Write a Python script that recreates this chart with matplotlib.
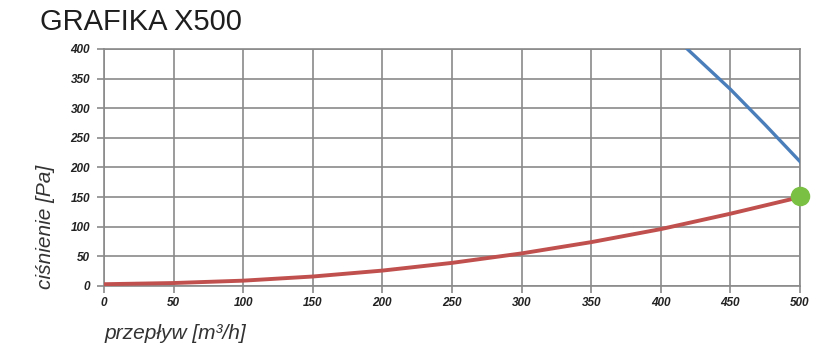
import matplotlib
matplotlib.use("Agg")
import matplotlib.pyplot as plt

# data
flow_red = [0, 50, 100, 150, 200, 250, 300, 350, 400, 450, 500]
pressure_red = [3, 5, 9, 16, 26, 39, 55, 74, 96, 122, 150]
flow_blue = [419, 450, 475, 500]
pressure_blue = [400, 332, 272, 210]
point_x = [500]
point_y = [152]
x_ticks = [0, 50, 100, 150, 200, 250, 300, 350, 400, 450, 500]
y_ticks = [0, 50, 100, 150, 200, 250, 300, 350, 400]

plt.rcParams['font.family'] = ['Liberation Sans', 'DejaVu Sans']

fig = plt.figure(figsize=(8.28, 3.55), dpi=100)
ax = fig.add_axes([0.1256, 0.1944, 0.8406, 0.6676])

grid_col = '#8a8a8a'
ax.plot(flow_red, pressure_red, color='#c0504d', lw=2.8, zorder=3, solid_capstyle='butt')
ax.plot(flow_blue, pressure_blue, color='#4a7ebb', lw=2.4, zorder=3)
ax.scatter(point_x, point_y, s=170, color='#7ac143', zorder=4, clip_on=False)

ax.set_xlim(0, 500)
ax.set_ylim(0, 400)
ax.set_xticks(x_ticks)
ax.set_yticks(y_ticks)
ax.grid(True, color=grid_col, lw=1.2)
for s in ax.spines.values():
    s.set_color(grid_col)
    s.set_linewidth(1.2)
ax.tick_params(axis='both', colors=grid_col, length=5, width=1.2, labelcolor='#222222', labelsize=8.5)
for lbl in ax.get_xticklabels() + ax.get_yticklabels():
    lbl.set_fontstyle('italic')
    lbl.set_fontweight('bold')
ax.tick_params(axis='x', pad=3)
ax.tick_params(axis='y', pad=5)

fig.text(0.048, 0.90, 'GRAFIKA X500', fontsize=21, color='#1e1e1e', ha='left', va='bottom')
fig.text(0.055, 0.36, 'ciśnienie [Pa]', rotation=90, fontsize=15, style='italic',
         color='#333333', ha='center', va='center')
fig.text(0.126, 0.06, 'przepływ [m³/h]', fontsize=15, style='italic',
         color='#333333', ha='left', va='center')

fig.savefig('out.png', dpi=100)
